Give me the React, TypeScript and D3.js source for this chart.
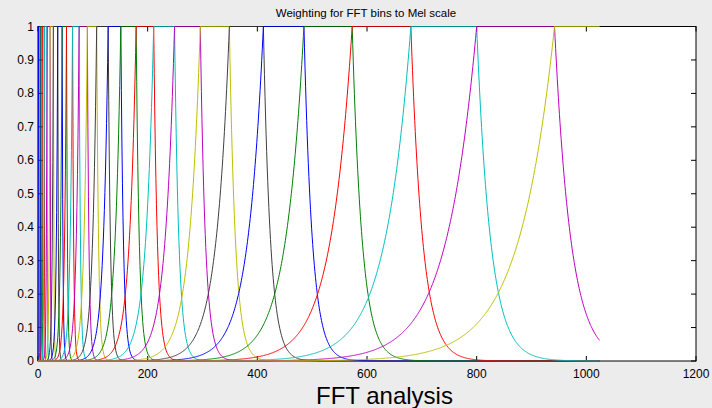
import React from 'react';
import * as d3 from 'd3';

const peakBins = [1, 4, 7.5, 11.5, 16.5, 22, 28, 36, 44, 52, 63, 75, 90, 107, 128, 151, 179, 211, 249, 296, 349, 411, 485, 573, 680, 800, 942];
const lastBin = 1024;
const xTicks = [0, 200, 400, 600, 800, 1000, 1200];
const yTicks = [0, 0.1, 0.2, 0.3, 0.4, 0.5, 0.6, 0.7, 0.8, 0.9, 1];
const lineColors = ['#0000ff', '#008000', '#ff0000', '#00bfbf', '#bf00bf', '#bfbf00', '#404040'];
const titleText = 'Weighting for FFT bins to Mel scale';
const xLabel = 'FFT analysis';

// slope of the rising / falling edges, relative to the bin position
const riseRate = 14.6;
const fallRate = 32;

const W = 712;
const H = 408;
const m = { left: 38, right: 696, top: 26.5, bottom: 361 };
const font = 'Liberation Sans, Arial, sans-serif';

function weight(i: number, bin: number): number {
  const c = peakBins[i];
  const next = i + 1 < peakBins.length ? peakBins[i + 1] : Infinity;
  if (bin < c) return Math.exp((-riseRate * (c - bin)) / c);
  if (bin <= next) return 1;
  return Math.exp((-fallRate * (bin - next)) / next);
}

export default function App() {
  const x = d3.scaleLinear().domain([0, 1200]).range([m.left, m.right]);
  const y = d3.scaleLinear().domain([0, 1]).range([m.bottom, m.top]);
  const bins = d3.range(0, lastBin + 1);
  const line = d3
    .line<number[]>()
    .x((d) => x(d[0]))
    .y((d) => y(Math.min(1, d[1])));

  const tick = 5;

  return (
    <svg width={W} height={H} style={{ position: 'fixed', left: 0, top: 0 }} fontFamily={font}>
      <rect x={0} y={0} width={W} height={H} fill="#ececec" />
      <rect x={m.left} y={m.top} width={m.right - m.left} height={m.bottom - m.top} fill="#ffffff" />

      {/* ticks */}
      <g stroke="#000" strokeWidth={1}>
        {xTicks.map((t) => (
          <g key={'xt' + t}>
            <line x1={x(t)} x2={x(t)} y1={m.bottom} y2={m.bottom - tick} />
            <line x1={x(t)} x2={x(t)} y1={m.top} y2={m.top + tick} />
          </g>
        ))}
        {yTicks.map((t) => (
          <g key={'yt' + t}>
            <line x1={m.left} x2={m.left + tick} y1={y(t)} y2={y(t)} />
            <line x1={m.right} x2={m.right - tick} y1={y(t)} y2={y(t)} />
          </g>
        ))}
      </g>
      <rect x={m.left} y={m.top} width={m.right - m.left} height={m.bottom - m.top} fill="none" stroke="#000" strokeWidth={1} />

      {/* filter curves */}
      <g fill="none" strokeWidth={1}>
        {peakBins.map((_, i) => (
          <path
            key={i}
            d={line(bins.map((b) => [b, weight(i, b)])) || ''}
            stroke={lineColors[i % lineColors.length]}
          />
        ))}
      </g>

      {/* labels */}
      <g fontSize={12} fill="#000">
        {xTicks.map((t) => (
          <text key={'xl' + t} x={x(t)} y={378} textAnchor="middle">
            {t}
          </text>
        ))}
        {yTicks.map((t) => (
          <text key={'yl' + t} x={34} y={y(t) + 4} textAnchor="end">
            {t}
          </text>
        ))}
      </g>
      <text x={366} y={17} fontSize={11.5} textAnchor="middle" fill="#000">
        {titleText}
      </text>
      <text x={384.5} y={404} fontSize={24} textAnchor="middle" fill="#000">
        {xLabel}
      </text>
    </svg>
  );
}
